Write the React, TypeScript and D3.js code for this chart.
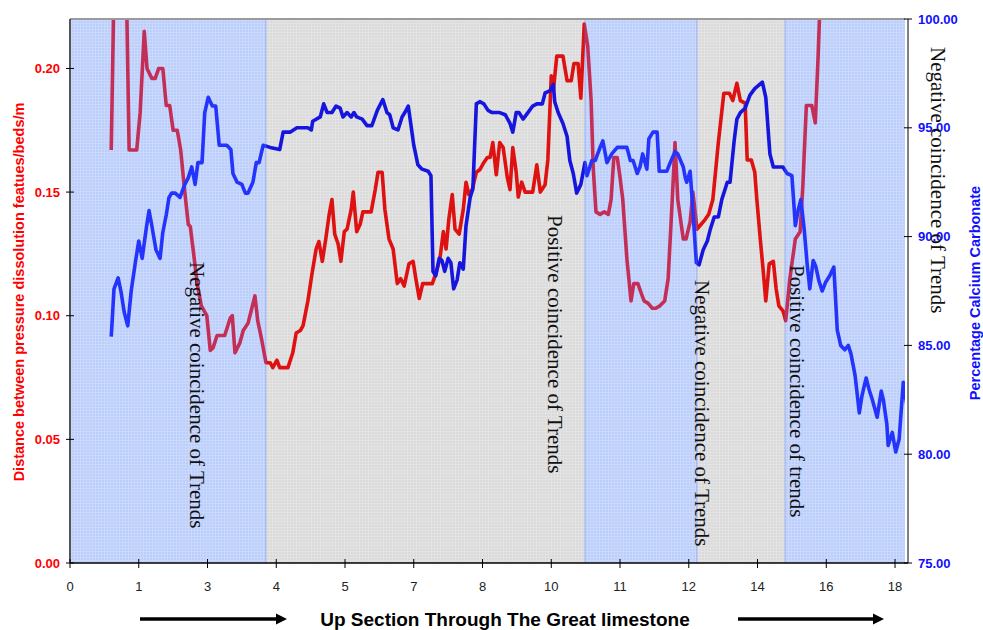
import React from "react";
import * as d3 from "d3";

// ---------- data ----------
const xTickLabels = ["0", "1", "3", "4", "5", "7", "8", "10", "11", "12", "14", "16", "18"];

// position along the section (in tick units) and distance values (left axis)
const redPos = [
  0.6, 0.65, 0.81, 0.86, 0.97, 1.02, 1.08, 1.12, 1.19, 1.24, 1.29, 1.35, 1.4, 1.45, 1.5, 1.56, 1.61, 1.67,
  1.72, 1.75, 1.79, 1.85, 1.91, 1.99, 2.04, 2.08, 2.14, 2.25, 2.33, 2.36, 2.4, 2.47, 2.52, 2.59, 2.69, 2.73,
  2.79, 2.85, 2.91, 2.95, 3.01, 3.05, 3.17, 3.24, 3.29, 3.35, 3.39, 3.46, 3.52, 3.58, 3.62, 3.67, 3.72, 3.77,
  3.81, 3.85, 3.9, 3.94, 3.99, 4.03, 4.09, 4.12, 4.17, 4.22, 4.26, 4.32, 4.38, 4.44, 4.48, 4.54, 4.58, 4.64,
  4.7, 4.76, 4.81, 4.86, 4.93, 4.99, 5.03, 5.08, 5.13, 5.19, 5.27, 5.32, 5.38, 5.43, 5.47, 5.51, 5.56, 5.6,
  5.66, 5.72, 5.76, 5.8, 5.85, 5.91, 5.96, 6.02, 6.07, 6.11, 6.15, 6.2, 6.25, 6.3, 6.36, 6.4, 6.44, 6.49,
  6.52, 6.57, 6.62, 6.69, 6.73, 6.79, 6.84, 6.91, 6.95, 7.0, 7.03, 7.08, 7.17, 7.23, 7.29, 7.33, 7.39, 7.43,
  7.48, 7.53, 7.58, 7.61, 7.65, 7.71, 7.77, 7.83, 7.87, 7.91, 7.96, 8.0, 8.04, 8.1, 8.16, 8.2, 8.26, 8.31,
  8.35, 8.41, 8.47, 8.52, 8.58, 8.65, 8.7, 8.76, 8.8, 8.84, 8.92, 8.96, 9.02, 9.06, 9.12, 9.18, 9.24, 9.29,
  9.35, 9.43, 9.51, 9.59, 9.64, 9.7, 9.75, 9.82, 9.85, 9.91, 9.96, 9.99, 10.04, 10.08, 10.12, 10.17, 10.23,
  10.27, 10.31, 10.37, 10.41, 10.47, 10.55, 10.62, 10.66, 10.71, 10.79, 10.84, 10.88, 10.94,
];
const redVal = [
  0.167, 0.25, 0.25, 0.167, 0.167, 0.182, 0.215, 0.2, 0.196, 0.196, 0.2, 0.2, 0.185, 0.185, 0.175, 0.175, 0.167, 0.15,
  0.137, 0.136, 0.127, 0.113, 0.104, 0.1, 0.086, 0.087, 0.092, 0.092, 0.099, 0.1, 0.085, 0.089, 0.094, 0.097, 0.108, 0.098,
  0.09, 0.081, 0.081, 0.079, 0.082, 0.079, 0.079, 0.085, 0.093, 0.094, 0.096, 0.106, 0.117, 0.127, 0.13, 0.122, 0.131, 0.141,
  0.147, 0.133, 0.129, 0.122, 0.134, 0.135, 0.143, 0.15, 0.134, 0.137, 0.142, 0.142, 0.142, 0.151, 0.158, 0.158, 0.143, 0.131,
  0.127, 0.113, 0.115, 0.112, 0.121, 0.122, 0.115, 0.107, 0.113, 0.113, 0.113, 0.117, 0.123, 0.134, 0.127, 0.139, 0.149, 0.135,
  0.133, 0.143, 0.154, 0.149, 0.151, 0.158, 0.159, 0.162, 0.164, 0.164, 0.17, 0.157, 0.17, 0.168, 0.156, 0.151, 0.168, 0.158,
  0.148, 0.154, 0.15, 0.15, 0.15, 0.161, 0.15, 0.153, 0.163, 0.197, 0.191, 0.205, 0.205, 0.195, 0.195, 0.202, 0.202, 0.188,
  0.218, 0.209, 0.187, 0.16, 0.142, 0.141, 0.142, 0.141, 0.147, 0.164, 0.164, 0.156, 0.147, 0.123, 0.106, 0.113, 0.113, 0.109,
  0.106, 0.105, 0.103, 0.103, 0.104, 0.106, 0.115, 0.147, 0.17, 0.147, 0.131, 0.131, 0.138, 0.15, 0.135, 0.137, 0.139, 0.141,
  0.147, 0.17, 0.19, 0.19, 0.187, 0.194, 0.187, 0.186, 0.163, 0.163, 0.158, 0.147, 0.131, 0.119, 0.106, 0.121, 0.122,
  0.111, 0.104, 0.102, 0.098, 0.115, 0.131, 0.134, 0.153, 0.185, 0.185, 0.178, 0.204, 0.25,
];

// position along the section and percentage calcium carbonate (right axis)
const bluePos = [
  0.6, 0.64, 0.7, 0.74, 0.79, 0.84, 0.89, 0.95, 1.0, 1.05, 1.11, 1.15, 1.19, 1.25, 1.31, 1.35, 1.4, 1.44, 1.48,
  1.53, 1.6, 1.67, 1.72, 1.77, 1.82, 1.86, 1.92, 1.96, 2.01, 2.07, 2.12, 2.17, 2.28, 2.34, 2.37, 2.43, 2.5, 2.55,
  2.59, 2.66, 2.71, 2.75, 2.81, 2.91, 3.05, 3.1, 3.2, 3.3, 3.46, 3.51, 3.53, 3.64, 3.69, 3.74, 3.81, 3.87, 3.93,
  3.97, 4.03, 4.09, 4.13, 4.17, 4.25, 4.32, 4.39, 4.47, 4.55, 4.61, 4.65, 4.7, 4.77, 4.83, 4.87, 4.92, 4.96, 5.0,
  5.06, 5.12, 5.21, 5.25, 5.28, 5.32, 5.37, 5.41, 5.45, 5.5, 5.54, 5.58, 5.63, 5.67, 5.72, 5.76, 5.82, 5.86, 5.91,
  5.96, 6.02, 6.08, 6.14, 6.2, 6.25, 6.33, 6.4, 6.44, 6.49, 6.53, 6.59, 6.66, 6.73, 6.79, 6.87, 6.91, 6.98, 7.03,
  7.05, 7.1, 7.17, 7.23, 7.27, 7.32, 7.37, 7.43, 7.49, 7.52, 7.59, 7.64, 7.71, 7.75, 7.81, 7.88, 7.96, 8.04, 8.1,
  8.15, 8.19, 8.25, 8.29, 8.33, 8.39, 8.42, 8.48, 8.54, 8.57, 8.68, 8.73, 8.8, 8.84, 8.92, 8.95, 8.97, 9.02, 9.06,
  9.11, 9.15, 9.21, 9.27, 9.31, 9.37, 9.43, 9.48, 9.56, 9.6, 9.66, 9.7, 9.75, 9.82, 9.89, 9.96, 10.07, 10.12,
  10.18, 10.23, 10.37, 10.43, 10.5, 10.55, 10.59, 10.63, 10.68, 10.72, 10.76, 10.81, 10.85, 10.89, 10.94, 10.99,
  11.05, 11.11, 11.16, 11.21, 11.27, 11.32, 11.36, 11.42, 11.48, 11.52, 11.58, 11.62, 11.67, 11.74, 11.8, 11.83,
  11.88, 11.9, 11.96, 12.01, 12.06, 12.12, 12.17,
];
const blueVal = [
  85.4, 87.6, 88.1, 87.5, 86.5, 85.9, 87.5, 88.8, 89.8, 89.0, 90.4, 91.2, 90.5, 89.4, 89.0, 90.2, 91.0, 91.8, 92.0,
  92.0, 91.8, 92.4, 92.7, 93.2, 92.4, 93.4, 93.4, 95.7, 96.4, 96.0, 96.0, 94.2, 94.2, 94.0, 92.9, 92.5, 92.4, 92.0,
  92.0, 92.5, 93.4, 93.4, 94.2, 94.1, 94.0, 94.8, 94.8, 95.0, 95.0, 94.9, 95.3, 95.5, 96.1, 95.7, 95.7, 96.0, 95.9,
  95.5, 95.7, 95.5, 95.7, 95.5, 95.4, 95.1, 95.1, 95.8, 96.3, 95.7, 95.6, 95.0, 94.9, 95.5, 95.7, 96.0, 95.1, 94.2,
  93.3, 93.1, 93.0, 92.8, 88.4, 88.2, 89.0, 88.9, 88.4, 89.0, 88.8, 87.6, 88.0, 88.8, 88.5, 90.5, 91.8, 92.2, 96.1,
  96.2, 96.1, 95.8, 95.7, 95.7, 95.7, 95.6, 95.2, 94.8, 95.7, 95.7, 95.4, 95.7, 96.0, 96.1, 96.1, 96.6, 96.7, 97.0,
  96.2, 95.7, 95.2, 94.6, 93.5, 92.9, 92.0, 92.4, 93.4, 92.8, 93.5, 93.5, 94.1, 94.4, 93.4, 93.8, 94.1, 94.1, 94.1,
  93.5, 93.5, 92.9, 93.2, 93.8, 93.1, 94.5, 94.8, 94.8, 93.0, 93.0, 93.4, 93.9, 93.8, 93.2, 92.7, 92.5, 93.0, 91.2,
  88.8, 88.7, 89.4, 89.8, 90.3, 90.9, 90.9, 91.7, 92.5, 92.5, 94.4, 95.4, 95.7, 95.9, 96.5, 96.8, 97.1, 96.4,
  93.8, 93.2, 93.2, 92.9, 92.8, 90.5, 91.2, 91.7, 90.3, 88.8, 87.6, 88.9, 88.6, 88.0, 87.5, 87.9,
  88.2, 88.6, 85.7, 85.0, 84.8, 85.0, 84.6, 83.6, 81.9, 82.7, 83.5, 83.0, 82.5, 81.7, 82.9, 82.5,
  81.4, 80.4, 81.0, 80.1, 80.7, 83.3, 82.3,
];

const leftTicks = [0, 0.05, 0.1, 0.15, 0.2];
const rightTicks = [75, 80, 85, 90, 95, 100];

// shaded zones along the section (tick units)
const bandEdges = [0, 2.85, 7.49, 9.12, 10.4, 12.145];
const bandKinds = ["blue", "grey", "blue", "grey", "blue"];

const annotationTexts = [
  "Negative coincidence of Trends",
  "Positive coincidence of Trends",
  "Negative coincidence of Trends",
  "Positive coincidence of trends",
  "Negative coincidence of Trends",
];

export default function App() {
  const W = 983;
  const H = 630;
  const L = 70, R = 905, T = 19, B = 563;

  const x = d3.scaleLinear().domain([0, 12.145]).range([L, R]);
  const yL = d3.scaleLinear().domain([0, 0.22]).range([B, T]);
  const yR = d3.scaleLinear().domain([75, 100]).range([B, T]);

  const redPath = d3
    .line<number>()
    .x((_, i) => x(redPos[i]))
    .y((d) => yL(d))
    .curve(d3.curveLinear)(redVal) as string;
  const bluePath = d3
    .line<number>()
    .x((_, i) => x(bluePos[i]))
    .y((d) => yR(d))
    .curve(d3.curveLinear)(blueVal) as string;

  const tickIdx = d3.range(xTickLabels.length);
  const annPos = [
    [190, 262],
    [548, 215],
    [695, 280],
    [790, 265],
    [931, 47],
  ];

  const sans = "Liberation Sans, Arial, sans-serif";
  const serif = "Liberation Serif, Times New Roman, serif";

  return (
    <svg
      width={W}
      height={H}
      style={{ position: "absolute", left: 0, top: 0, background: "#fff" }}
    >
      <defs>
        <clipPath id="plotClip">
          <rect x={L} y={T} width={R - L} height={B - T} />
        </clipPath>
        <pattern id="bluePat" width={3} height={3} patternUnits="userSpaceOnUse">
          <rect x={0} y={0} width={3} height={3} fill="rgba(60,110,245,0.19)" />
          <rect x={0} y={0} width={2} height={2} fill="rgba(60,110,245,0.1)" />
        </pattern>
        <pattern id="greyPat" width={3} height={3} patternUnits="userSpaceOnUse">
          <rect x={0} y={0} width={3} height={3} fill="rgba(0,0,0,0.075)" />
          <rect x={0} y={0} width={2} height={2} fill="rgba(0,0,0,0.04)" />
        </pattern>
      </defs>

      {/* series */}
      <g clipPath="url(#plotClip)">
        <path d={redPath} fill="none" stroke="#ff1414" strokeWidth={3.6} strokeLinejoin="round" />
        <path d={bluePath} fill="none" stroke="#1a1aff" strokeWidth={3.6} strokeLinejoin="round" />
      </g>

      {/* zone overlays */}
      {bandKinds.map((k, i) => (
        <g key={"b" + i}>
          <rect
            x={x(bandEdges[i])}
            y={T}
            width={x(bandEdges[i + 1]) - x(bandEdges[i])}
            height={B - T}
            fill={k === "blue" ? "rgba(60,110,245,0.1)" : "rgba(0,0,0,0.04)"}
          />
          <rect
            x={x(bandEdges[i])}
            y={T}
            width={x(bandEdges[i + 1]) - x(bandEdges[i])}
            height={B - T}
            fill={k === "blue" ? "url(#bluePat)" : "url(#greyPat)"}
          />
        </g>
      ))}
      {bandEdges.slice(1, -1).map((e, i) => (
        <line
          key={"e" + i}
          x1={x(e)}
          x2={x(e)}
          y1={T}
          y2={B}
          stroke="rgba(80,115,235,0.4)"
          strokeWidth={1}
        />
      ))}

      {/* frame */}
      <line x1={L} x2={R} y1={T} y2={T} stroke="#9a9a9a" strokeWidth={2} />
      <line x1={L} x2={L} y1={T} y2={B} stroke="#555" strokeWidth={2} />
      <line x1={908} x2={908} y1={T} y2={B} stroke="#000" strokeWidth={1} />
      <line x1={L} x2={908} y1={B} y2={B} stroke="#000" strokeWidth={1.5} />

      {/* left axis */}
      {leftTicks.map((t) => (
        <g key={"l" + t}>
          <line x1={66} x2={74} y1={yL(t)} y2={yL(t)} stroke="#000" strokeWidth={1} />
          <text
            x={60}
            y={yL(t)}
            dy="0.35em"
            textAnchor="end"
            fontFamily={sans}
            fontWeight="bold"
            fontSize={13}
            fill="#ff0000"
          >
            {t.toFixed(2)}
          </text>
        </g>
      ))}
      <text
        transform="translate(24,292) rotate(-90)"
        textAnchor="middle"
        fontFamily={sans}
        fontWeight="bold"
        fontSize={14.5}
        fill="#ff0000"
      >
        Distance between pressure dissolution featues/beds/m
      </text>

      {/* right axis */}
      {rightTicks.map((t) => (
        <g key={"r" + t}>
          <line x1={904} x2={912} y1={yR(t)} y2={yR(t)} stroke="#000" strokeWidth={1} />
          <text
            x={918}
            y={yR(t)}
            dy="0.35em"
            textAnchor="start"
            fontFamily={sans}
            fontWeight="bold"
            fontSize={13}
            fill="#1010ff"
          >
            {t.toFixed(2)}
          </text>
        </g>
      ))}
      <text
        transform="translate(980,293) rotate(-90)"
        textAnchor="middle"
        fontFamily={sans}
        fontWeight="bold"
        fontSize={14.5}
        fill="#1010ff"
      >
        Percentage Calcium Carbonate
      </text>

      {/* bottom axis */}
      {tickIdx.map((i) => (
        <g key={"x" + i}>
          <line x1={x(i)} x2={x(i)} y1={559} y2={568} stroke="#000" strokeWidth={1} />
          <text
            x={x(i)}
            y={591}
            textAnchor="middle"
            fontFamily={sans}
            fontSize={13}
            fill="#222"
          >
            {xTickLabels[i]}
          </text>
        </g>
      ))}
      <text
        x={505}
        y={626}
        textAnchor="middle"
        fontFamily={sans}
        fontWeight="bold"
        fontSize={19}
        fill="#000"
      >
        Up Section Through The Great limestone
      </text>

      {/* arrows */}
      {[
        [140, 287],
        [738, 884],
      ].map(([a, b], i) => (
        <g key={"a" + i}>
          <line x1={a} x2={b - 9} y1={619} y2={619} stroke="#000" strokeWidth={3.5} />
          <path d={`M${b},619 L${b - 11},613.5 L${b - 11},624.5 Z`} fill="#000" />
        </g>
      ))}

      {/* annotations */}
      {annotationTexts.map((s, i) => (
        <text
          key={"t" + i}
          transform={`translate(${annPos[i][0]},${annPos[i][1]}) rotate(90)`}
          fontFamily={serif}
          fontSize={21}
          fill="#111"
        >
          {s}
        </text>
      ))}
    </svg>
  );
}
